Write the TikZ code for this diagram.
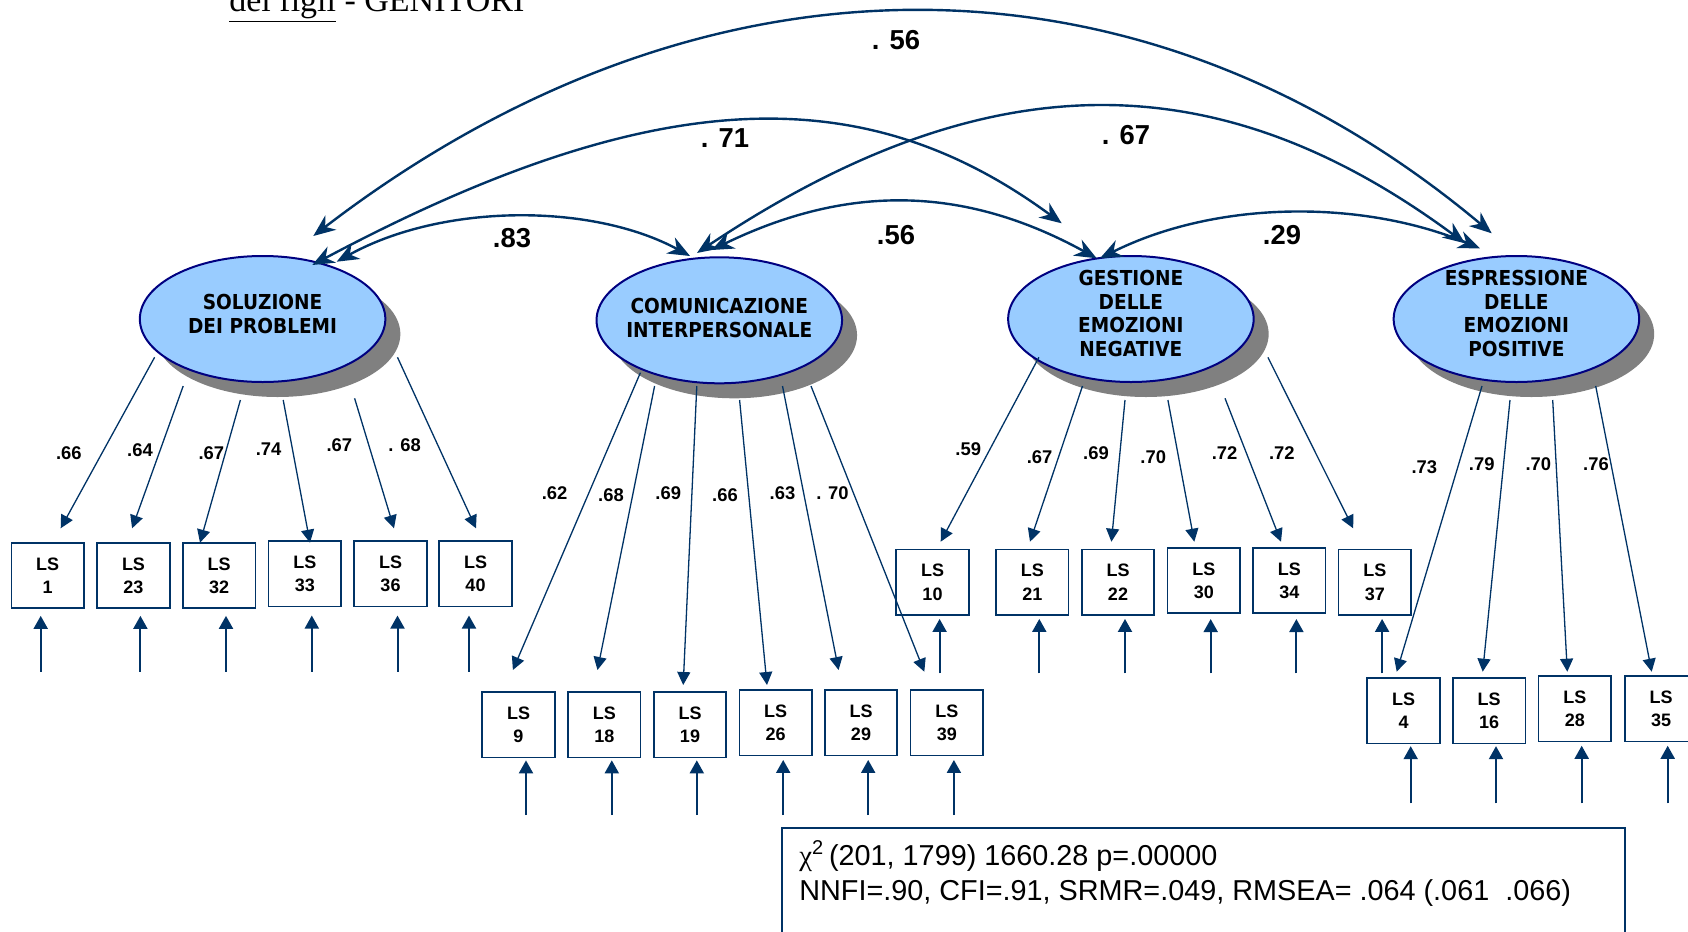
\documentclass[tikz,border=0pt]{standalone}
\usepackage{fontspec}
\setmainfont{Liberation Sans}
\newfontfamily\titlefont{Liberation Serif}
\newfontfamily\latfont[FakeStretch=0.9]{DejaVu Sans}
\usetikzlibrary{arrows.meta,shapes.geometric,shadows}
\definecolor{navy}{HTML}{003366}
\definecolor{ellblue}{HTML}{99CCFF}
\definecolor{ellborder}{HTML}{000080}
\definecolor{shadowgray}{HTML}{808080}
\newcommand\errar[4]{\coordinate (e#1) at (#2,#3);
  \draw[err,shorten >=#4] (e#1) -- (e#1 |- #1.south);}
\begin{document}
\begin{tikzpicture}[x=0.5pt,y=-0.5pt,
  latent/.style={ellipse, minimum width=122.75pt, minimum height=63pt, inner sep=0pt,
    fill=ellblue, draw=ellborder, line width=1pt,
    drop shadow={shadow xshift=7.5pt, shadow yshift=-7.5pt, fill=shadowgray, opacity=1}},
  lattext/.style={align=center, font=\latfont\bfseries\fontsize{10.3}{11.8}\selectfont, inner sep=0pt},
  ind/.style={draw=navy, line width=0.8pt, minimum width=36.25pt, minimum height=32.75pt,
    inner sep=0pt, align=center, font=\bfseries\fontsize{9}{11.65}\selectfont},
  load/.style={navy, line width=0.65pt, -{Triangle[length=6.5pt,width=6.5pt]}},
  err/.style={navy, line width=1pt, -{Triangle[length=6.5pt,width=7pt]}},
  corr/.style={navy, line width=1.2pt,
    {Stealth[length=11pt,width=9pt,inset=3.5pt]}-{Stealth[length=11pt,width=9pt,inset=3.5pt]}},
  llab/.style={font=\bfseries\fontsize{9.2}{11}\selectfont, inner sep=0pt},
  clab/.style={font=\bfseries\fontsize{13.7}{16}\selectfont, inner sep=0pt},
  fittext/.style={font=\fontsize{14.4}{17.5}\selectfont, inner sep=0pt, anchor=base west},
]
\useasboundingbox (0,0) rectangle (1688,932);
\fill[white] (0,0) rectangle (1688,932);
\clip (0,0) rectangle (1688,932);

% title (cut at top, as in the reference)
\node[anchor=base west, font=\titlefont\fontsize{17}{19}\selectfont, inner sep=0pt] (title)
  at (229,11) {\underline{dei figli} - GENITORI};

% latent factors
\node[latent] (sol) at (262.6,319) {};
\node[lattext] (solT) at (262.6,314) {SOLUZIONE\\DEI PROBLEMI};
\node[latent] (com) at (719.3,320.3) {};
\node[lattext] (comT) at (719.3,318) {COMUNICAZIONE\\INTERPERSONALE};
\node[latent] (ges) at (1130.9,319) {};
\node[lattext] (gesT) at (1130.9,313.3) {GESTIONE\\DELLE\\EMOZIONI\\NEGATIVE};
\node[latent] (esp) at (1516.4,319) {};
\node[lattext] (espT) at (1516.4,313.3) {ESPRESSIONE\\DELLE\\EMOZIONI\\POSITIVE};

% indicators
\node[ind] (b1) at (47.6,575.5) {LS\\1};
\node[ind] (b23) at (133.5,575.5) {LS\\23};
\node[ind] (b32) at (219.1,575.5) {LS\\32};
\node[ind] (b33) at (304.8,573.8) {LS\\33};
\node[ind] (b36) at (390.5,573.8) {LS\\36};
\node[ind] (b40) at (475.5,573.8) {LS\\40};
\node[ind] (b9) at (518.5,724.8) {LS\\9};
\node[ind] (b18) at (604.3,724.8) {LS\\18};
\node[ind] (b19) at (690,724.8) {LS\\19};
\node[ind] (b26) at (775.7,722.8) {LS\\26};
\node[ind] (b29) at (861,722.8) {LS\\29};
\node[ind] (b39) at (946.8,722.8) {LS\\39};
\node[ind] (b10) at (932.5,582.2) {LS\\10};
\node[ind] (b21) at (1032.3,582.2) {LS\\21};
\node[ind] (b22) at (1118,582.2) {LS\\22};
\node[ind] (b30) at (1203.8,580.5) {LS\\30};
\node[ind] (b34) at (1289.3,580.5) {LS\\34};
\node[ind] (b37) at (1374.8,582.2) {LS\\37};
\node[ind] (b4) at (1403.5,710.8) {LS\\4};
\node[ind] (b16) at (1489.2,710.8) {LS\\16};
\node[ind] (b28) at (1574.9,708.8) {LS\\28};
\node[ind] (b35) at (1661,708.8) {LS\\35};

% error arrows
\errar{b1}{40.7}{671.7}{3.4pt}
\errar{b23}{140.4}{671.7}{3.4pt}
\errar{b32}{226}{671.7}{3.4pt}
\errar{b33}{311.8}{671.7}{4.1pt}
\errar{b36}{397.5}{671.7}{4.1pt}
\errar{b40}{469}{671.7}{4.1pt}
\errar{b9}{526}{815}{1pt}
\errar{b18}{611.8}{815}{1pt}
\errar{b19}{696.8}{815}{1pt}
\errar{b26}{783.2}{815}{1.8pt}
\errar{b29}{868.2}{815}{1.8pt}
\errar{b39}{953.9}{815}{1.8pt}
\errar{b10}{939.6}{673.3}{1.6pt}
\errar{b21}{1039.3}{673.3}{1.6pt}
\errar{b22}{1125}{673.3}{1.6pt}
\errar{b30}{1210.7}{673.3}{2.5pt}
\errar{b34}{1296.4}{673.3}{2.5pt}
\errar{b37}{1382.1}{673.3}{1.6pt}
\errar{b4}{1410.7}{803.3}{0.9pt}
\errar{b16}{1496}{803.3}{0.9pt}
\errar{b28}{1581.7}{803.3}{1.7pt}
\errar{b35}{1667.7}{803.3}{1.7pt}

% loadings
\foreach \sx/\sy/\ex/\ey/\lab/\lx/\ly [count=\i] in {
  154.6/357.3/60.7/528.3/{.66}/68.9/452.7,
  183.2/386/132.1/528.3/{.64}/140/450,
  240.4/400/200/542.7/{.67}/211.4/452.7,
  283.2/400/310/542.7/{.74}/268.6/449.3,
  354.6/398.3/394/528.3/{.67}/339.3/445,
  397.5/357.3/476/528.3/{. 68}/404.6/445,
  640.4/372.7/512.9/670/{.62}/554.6/492.7,
  654.6/386/597.5/670/{.68}/611/495,
  696.8/386/683.2/685/{.69}/668.2/492.7,
  739.6/400/767/685/{.66}/725/495,
  782.5/386/838.6/670/{.63}/782.5/492.7,
  811/386/924.3/671.7/{. 70}/832.5/492.7,
  1038.9/357.3/940.7/541.7/{.59}/968.2/449.3,
  1082.5/386/1030/541.7/{.67}/1039.6/456.7,
  1125/400/1111.4/541.7/{.69}/1096/452.7,
  1167.9/400/1194.3/541.7/{.70}/1153.2/456.7,
  1225/398.3/1281/541.7/{.72}/1224.6/452.7,
  1267.9/357.3/1353.2/528.3/{.72}/1281.8/452.7,
  1482/386/1396.7/671.7/{.73}/1424.3/466.7,
  1510/400/1482.7/671.7/{.79}/1481.7/464,
  1552.7/400/1567.3/671.7/{.70}/1538.3/464,
  1595.7/386/1651.7/671.7/{.76}/1596/464}{
  \coordinate (ls\i) at (\sx,\sy);
  \coordinate (le\i) at (\ex,\ey);
  \draw[load] (ls\i) -- (le\i);
  \node[llab] (ll\i) at (\lx,\ly) {\lab};
}

% correlations
\coordinate (c1a) at (313.3,236);   \coordinate (c1b) at (1491.7,233.3);
\coordinate (c2a) at (312.3,265);   \coordinate (c2b) at (1061.7,223.3);
\coordinate (c3a) at (336.7,261.7); \coordinate (c3b) at (690,256);
\coordinate (c4a) at (711.7,250);   \coordinate (c4b) at (1096.7,258.3);
\coordinate (c5a) at (697,253);     \coordinate (c5b) at (1465,243.3);
\coordinate (c6a) at (1100,258.3);  \coordinate (c6b) at (1480,248.3);
\draw[corr] (c1a) .. controls (702,-62.2) and (1139,-62.2) .. (c1b);
\draw[corr] (c2a) .. controls (660,80) and (866.7,80) .. (c2b);
\draw[corr] (c3a) .. controls (442.9,203) and (592.3,203) .. (c3b);
\draw[corr] (c4a) .. controls (846.3,184.6) and (962.7,184.6) .. (c4b);
\draw[corr] (c5a) .. controls (986.5,60) and (1217.3,60) .. (c5b);
\draw[corr] (c6a) .. controls (1217.4,199.6) and (1363.2,199.6) .. (c6b);
\node[clab] (k1) at (896,40) {. 56};
\node[clab] (k2) at (725,138) {. 71};
\node[clab] (k3) at (512,238) {.83};
\node[clab] (k4) at (896,235) {.56};
\node[clab] (k5) at (1126,135) {. 67};
\node[clab] (k6) at (1282,235) {.29};

% fit box
\draw[navy, line width=1pt] (782,828) rectangle (1625,1000);
\node[fittext] (fit1) at (799,865) {{\titlefont χ}\textsuperscript{2}\,(201, 1799) 1660.28 p=.00000};
\node[fittext] (fit2) at (799,900) {NNFI=.90, CFI=.91, SRMR=.049, RMSEA= .064 (.061\ \ .066)};
\end{tikzpicture}
\end{document}
